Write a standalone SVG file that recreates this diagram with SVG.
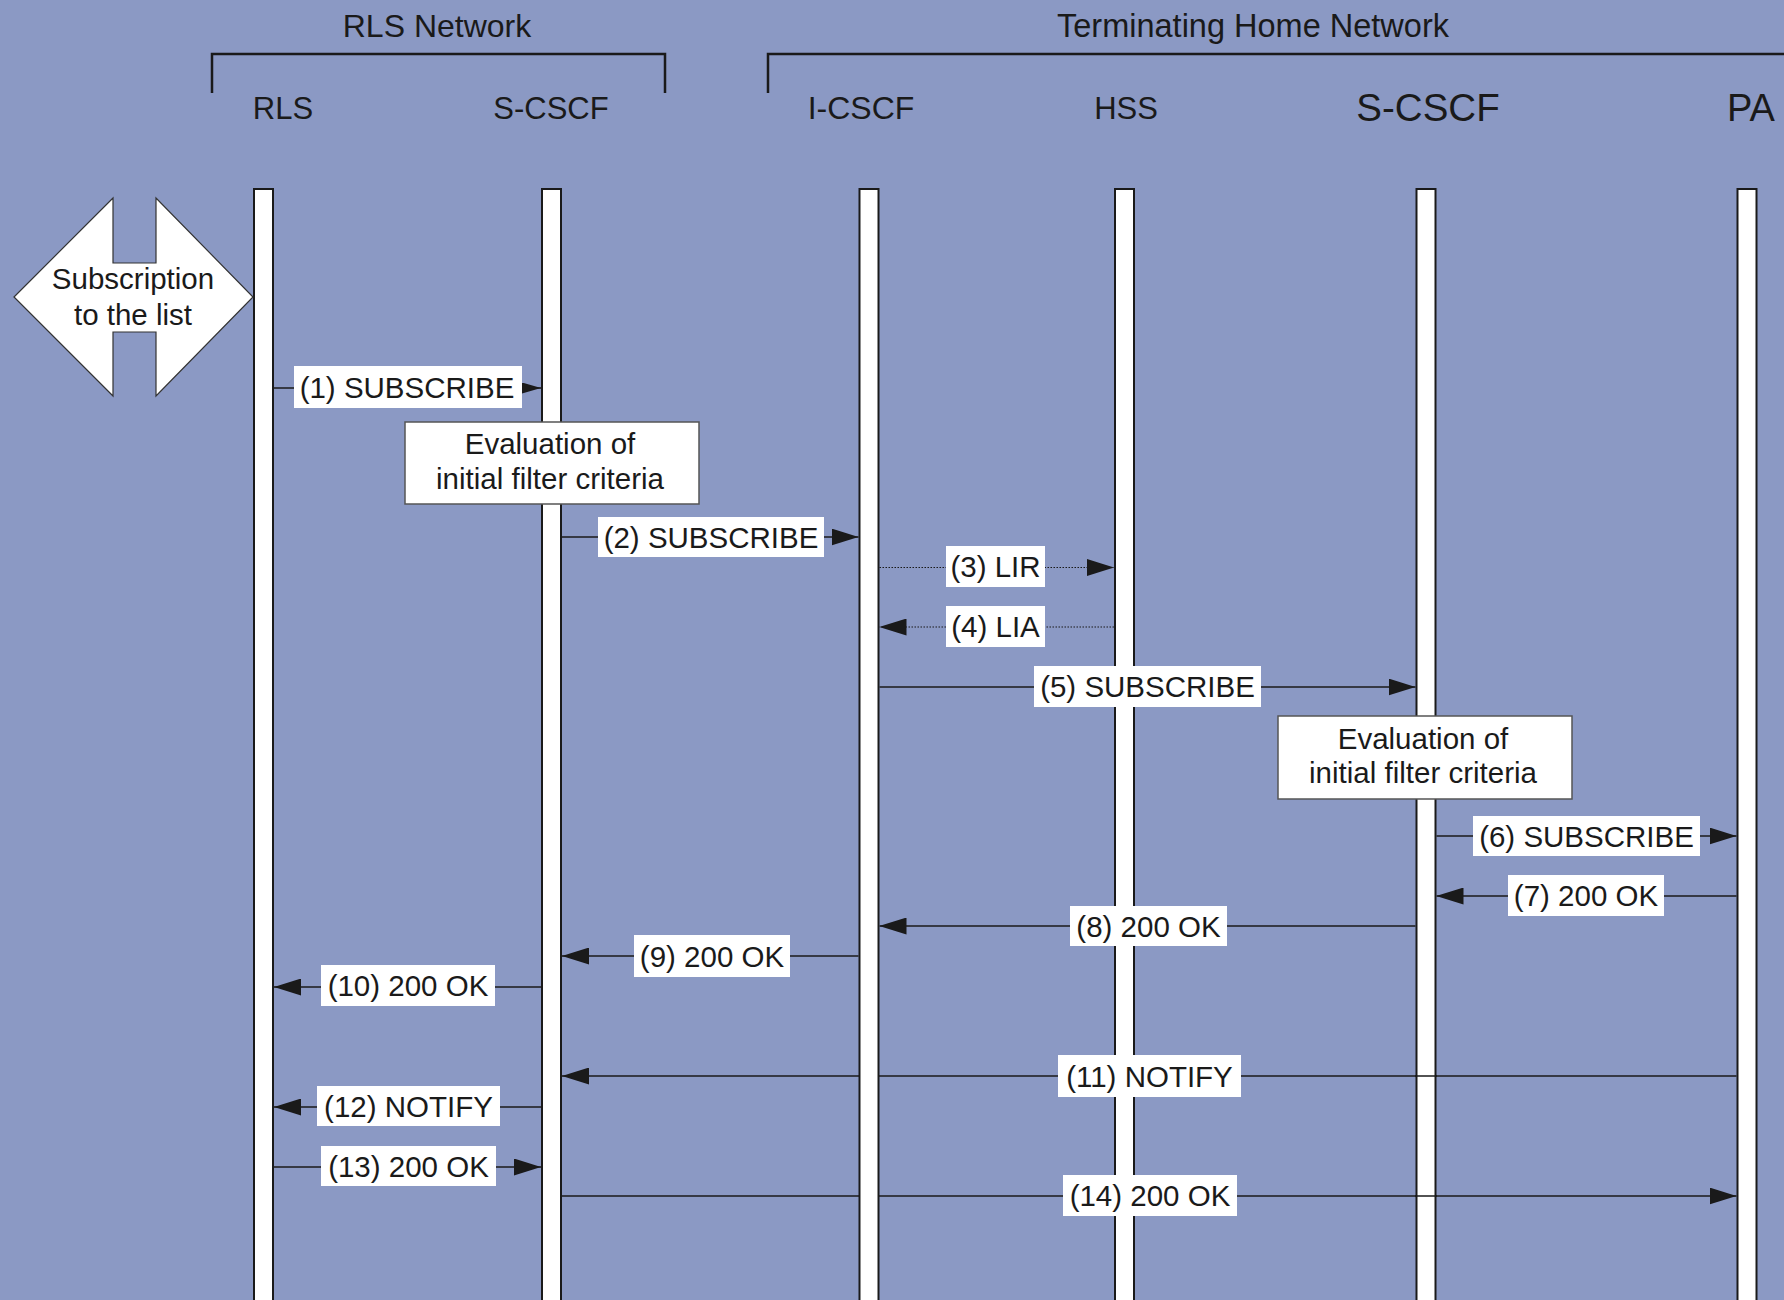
<svg xmlns="http://www.w3.org/2000/svg" width="1784" height="1300" viewBox="0 0 1784 1300">
<style>
text{font-family:"Liberation Sans",Arial,Helvetica,sans-serif;fill:#1a1a1a;}
.hdr{font-size:31px;text-anchor:middle;}
.ttl{font-size:32px;text-anchor:middle;}
.lbl{font-size:29.5px;text-anchor:middle;}
.bar{fill:#fff;stroke:#1a1a1a;stroke-width:2;}
.msg{stroke:#1a1a1a;stroke-width:1.5;fill:none;}
.dot{stroke:#1a1a1a;stroke-width:1.2;fill:none;stroke-dasharray:1.5 1.5;}
.lb{fill:#fff;}
.eval{fill:#fff;stroke:#555;stroke-width:1.5;}
.brk{stroke:#1a1a1a;stroke-width:2.5;fill:none;}
</style>
<defs>
<marker id="arr" viewBox="0 0 27 17" markerWidth="27" markerHeight="17" refX="27" refY="8.5" orient="auto" markerUnits="userSpaceOnUse"><path d="M0,0 L27,8.5 L0,17 z" fill="#1a1a1a"/></marker>
<marker id="arrS" viewBox="0 0 19 11" markerWidth="19" markerHeight="11" refX="19" refY="5.5" orient="auto" markerUnits="userSpaceOnUse"><path d="M0,0 L19,5.5 L0,11 z" fill="#1a1a1a"/></marker>
</defs>
<rect x="0" y="0" width="1784" height="1300" fill="#8b99c4"/>

<g id="domains">
<text class="ttl" x="437" y="37">RLS Network</text>
<path class="brk" d="M212,93 V54 H665 V93"/>
<text class="ttl" x="1253" y="37" style="font-size:32.5px">Terminating Home Network</text>
<path class="brk" d="M768,93 V54 H1790"/>
</g>

<g id="connectors">
<line class="msg" x1="274" y1="388" x2="541" y2="388" marker-end="url(#arrS)"/>
<line class="msg" x1="562" y1="537" x2="858.5" y2="537" marker-end="url(#arr)"/>
<line class="dot" x1="879.5" y1="567.5" x2="1114" y2="567.5" marker-end="url(#arr)"/>
<line class="dot" x1="1114" y1="627" x2="879.5" y2="627" marker-end="url(#arr)"/>
<line class="msg" x1="879.5" y1="687" x2="1415.5" y2="687" marker-end="url(#arr)"/>
<line class="msg" x1="1436.5" y1="836" x2="1736.5" y2="836" marker-end="url(#arr)"/>
<line class="msg" x1="1736.5" y1="896" x2="1436.5" y2="896" marker-end="url(#arr)"/>
<line class="msg" x1="1415.5" y1="926" x2="879.5" y2="926" marker-end="url(#arr)"/>
<line class="msg" x1="858.5" y1="956" x2="562" y2="956" marker-end="url(#arr)"/>
<line class="msg" x1="541" y1="987" x2="274" y2="987" marker-end="url(#arr)"/>
<line class="msg" x1="1736.5" y1="1076" x2="562" y2="1076" marker-end="url(#arr)"/>
<line class="msg" x1="541" y1="1107" x2="274" y2="1107" marker-end="url(#arr)"/>
<line class="msg" x1="274" y1="1167" x2="541" y2="1167" marker-end="url(#arr)"/>
<line class="msg" x1="562" y1="1196" x2="1736.5" y2="1196" marker-end="url(#arr)"/>
</g>

<g id="node-rls">
<text class="hdr" x="283" y="119">RLS</text>
<rect class="bar" x="254" y="189" width="19" height="1120"/>
</g>
<g id="node-scscf-rls">
<text class="hdr" x="551" y="119">S-CSCF</text>
<rect class="bar" x="542" y="189" width="19" height="1120"/>
</g>
<g id="node-icscf">
<text class="hdr" x="861" y="119" style="font-size:32px">I-CSCF</text>
<rect class="bar" x="859.5" y="189" width="19" height="1120"/>
</g>
<g id="node-hss">
<text class="hdr" x="1126" y="119">HSS</text>
<rect class="bar" x="1115" y="189" width="19" height="1120"/>
</g>
<g id="node-scscf-home">
<text class="hdr" x="1428" y="121" style="font-size:38.5px">S-CSCF</text>
<rect class="bar" x="1416.5" y="189" width="19" height="1120"/>
</g>
<g id="node-pa">
<text class="hdr" x="1751" y="121" style="font-size:38px">PA</text>
<rect class="bar" x="1737.5" y="189" width="19" height="1120"/>
</g>

<g id="connector-crossings">
<line class="msg" x1="1415" y1="1076" x2="1437" y2="1076"/>
<line class="msg" x1="1415" y1="1196" x2="1437" y2="1196"/>
</g>

<g id="labels">
<rect class="lb" x="294" y="366" width="228" height="42"/><text class="lbl" x="407" y="397.5">(1) SUBSCRIBE</text>
<rect class="lb" x="598" y="517" width="226" height="40"/><text class="lbl" x="711" y="547.5">(2) SUBSCRIBE</text>
<rect class="lb" x="946" y="546" width="99" height="41"/><text class="lbl" x="995.5" y="577">(3) LIR</text>
<rect class="lb" x="946" y="606" width="99" height="41"/><text class="lbl" x="995.5" y="637">(4) LIA</text>
<rect class="lb" x="1034" y="666" width="227" height="41"/><text class="lbl" x="1147.5" y="697">(5) SUBSCRIBE</text>
<rect class="lb" x="1473" y="816" width="227" height="40"/><text class="lbl" x="1586.5" y="846.5">(6) SUBSCRIBE</text>
<rect class="lb" x="1508" y="875" width="156" height="41"/><text class="lbl" x="1586" y="906">(7) 200 OK</text>
<rect class="lb" x="1070" y="906" width="157" height="40"/><text class="lbl" x="1148.5" y="936.5">(8) 200 OK</text>
<rect class="lb" x="634" y="935" width="156" height="42"/><text class="lbl" x="712" y="966.5">(9) 200 OK</text>
<rect class="lb" x="321" y="965" width="174" height="41"/><text class="lbl" x="408" y="996">(10) 200 OK</text>
<rect class="lb" x="1058" y="1055" width="183" height="42"/><text class="lbl" x="1149.5" y="1086.5">(11) NOTIFY</text>
<rect class="lb" x="317" y="1086" width="183" height="40"/><text class="lbl" x="408.5" y="1116.5">(12) NOTIFY</text>
<rect class="lb" x="321" y="1146" width="175" height="40"/><text class="lbl" x="408.5" y="1176.5">(13) 200 OK</text>
<rect class="lb" x="1063" y="1175" width="174" height="41"/><text class="lbl" x="1150" y="1206">(14) 200 OK</text>
</g>

<g id="eval-rls">
<rect class="eval" x="405" y="422" width="294" height="82"/>
<text class="lbl" x="550" y="454">Evaluation of</text>
<text class="lbl" x="550" y="489">initial filter criteria</text>
</g>
<g id="eval-home">
<rect class="eval" x="1278" y="716" width="294" height="83"/>
<text class="lbl" x="1423" y="749">Evaluation of</text>
<text class="lbl" x="1423" y="783">initial filter criteria</text>
</g>

<g id="subscription">
<polygon points="14,297 113,198 113,263 156,263 156,198 253,297 156,396 156,332 113,332 113,396" fill="#fff" stroke="#333" stroke-width="1.2"/>
<text class="lbl" x="133" y="289">Subscription</text>
<text class="lbl" x="133" y="325">to the list</text>
</g>
</svg>
